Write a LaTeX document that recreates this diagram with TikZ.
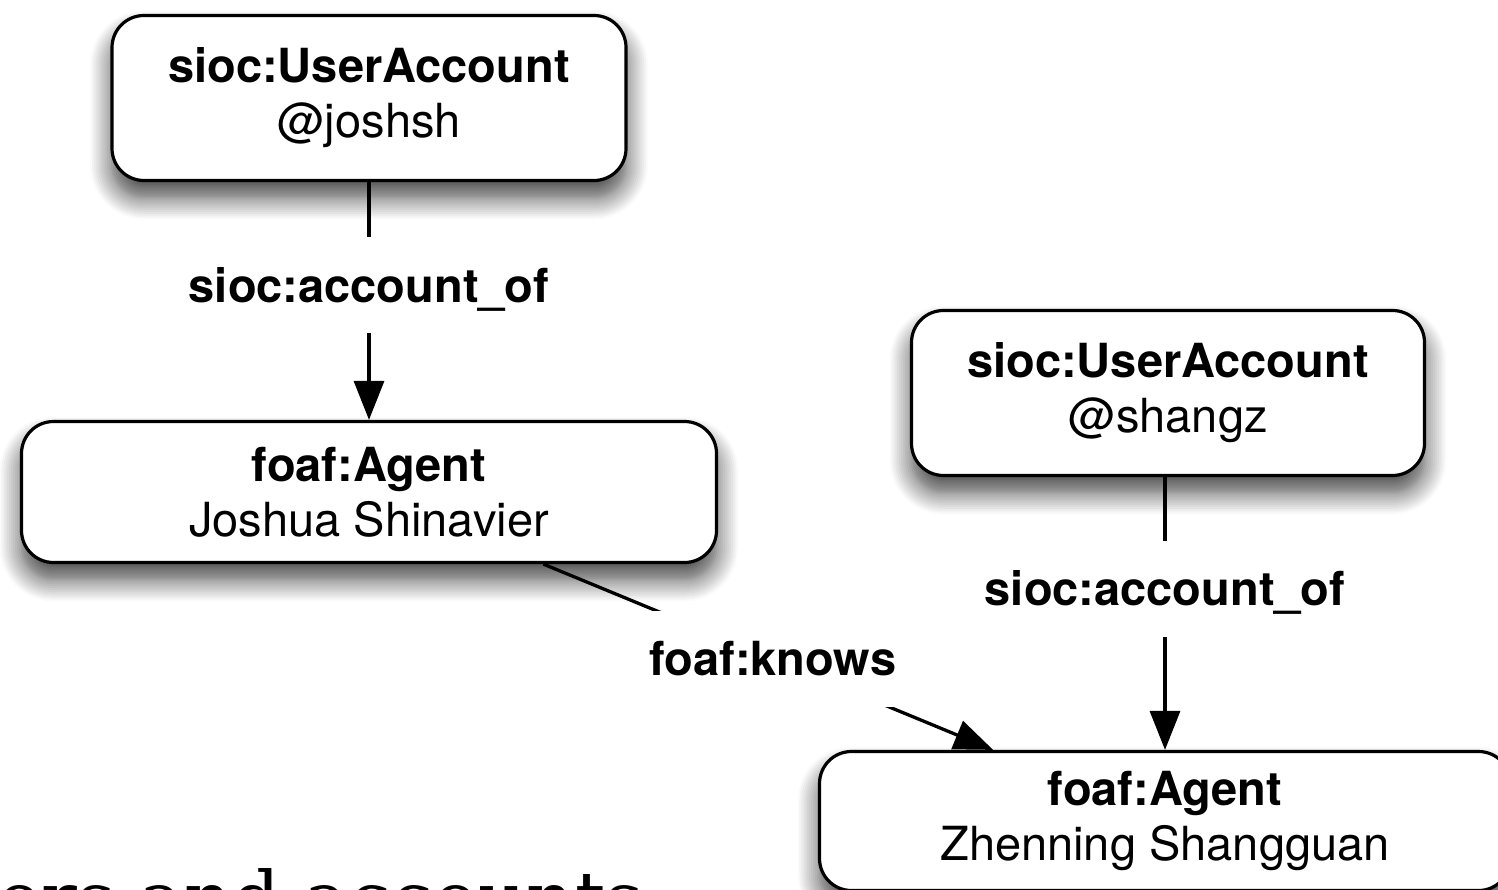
\documentclass[tikz,border=0pt]{standalone}
\usepackage{fontspec}
\setmainfont{TeX Gyre Heros}
\newfontfamily\bigserif{DejaVu Serif}
\usetikzlibrary{arrows.meta,shadows.blur}
\begin{document}
\begin{tikzpicture}[x=1pt,y=-1pt,
  box/.style={draw, line width=3.2pt, rounded corners=32pt, fill=white, align=center,
    inner sep=0pt, font=\fontsize{47}{55}\selectfont,
    blur shadow={shadow xshift=0pt, shadow yshift=-17pt, shadow blur radius=22pt, shadow blur steps=12, shadow opacity=75}},
  conn/.style={line width=3.3pt, -{Triangle[length=39pt,width=30pt]}},
  lbl/.style={fill=white, inner xsep=25pt, inner ysep=0pt, minimum height=96pt,
    text height=34pt, text depth=0pt, font=\bfseries\fontsize{47}{55}\selectfont}]
\useasboundingbox (0,0) rectangle (1498,890);
\clip (0,0) rectangle (1498,890);
\node[anchor=base west, inner sep=0pt, font=\bigserif\fontsize{75}{80}\selectfont] (title) at (-3,925) {ers and accounts};
\node[box, minimum width=514pt, minimum height=165pt] (n1) at (369,98) {\textbf{sioc:UserAccount}\\@joshsh};
\node[box, minimum width=695pt, minimum height=141pt] (n2) at (369,492) {\textbf{foaf:Agent}\\Joshua Shinavier};
\node[box, minimum width=513pt, minimum height=165pt] (n3) at (1168,393) {\textbf{sioc:UserAccount}\\@shangz};
\node[box, minimum width=691pt, minimum height=139pt] (n4) at (1165,821) {\textbf{foaf:Agent}\\Zhenning Shangguan};
\draw[conn] (n1) -- node[lbl, pos=0.433] (l1) {sioc:account\_of} (n2);
\draw[conn] (n3.south -| n4.north) -- node[lbl, pos=0.41] (l2) {sioc:account\_of} (n4.north);
\draw[conn] (n2) -- node[lbl, pos=0.51] (l3) {foaf:knows} (n4);
\end{tikzpicture}
\end{document}
